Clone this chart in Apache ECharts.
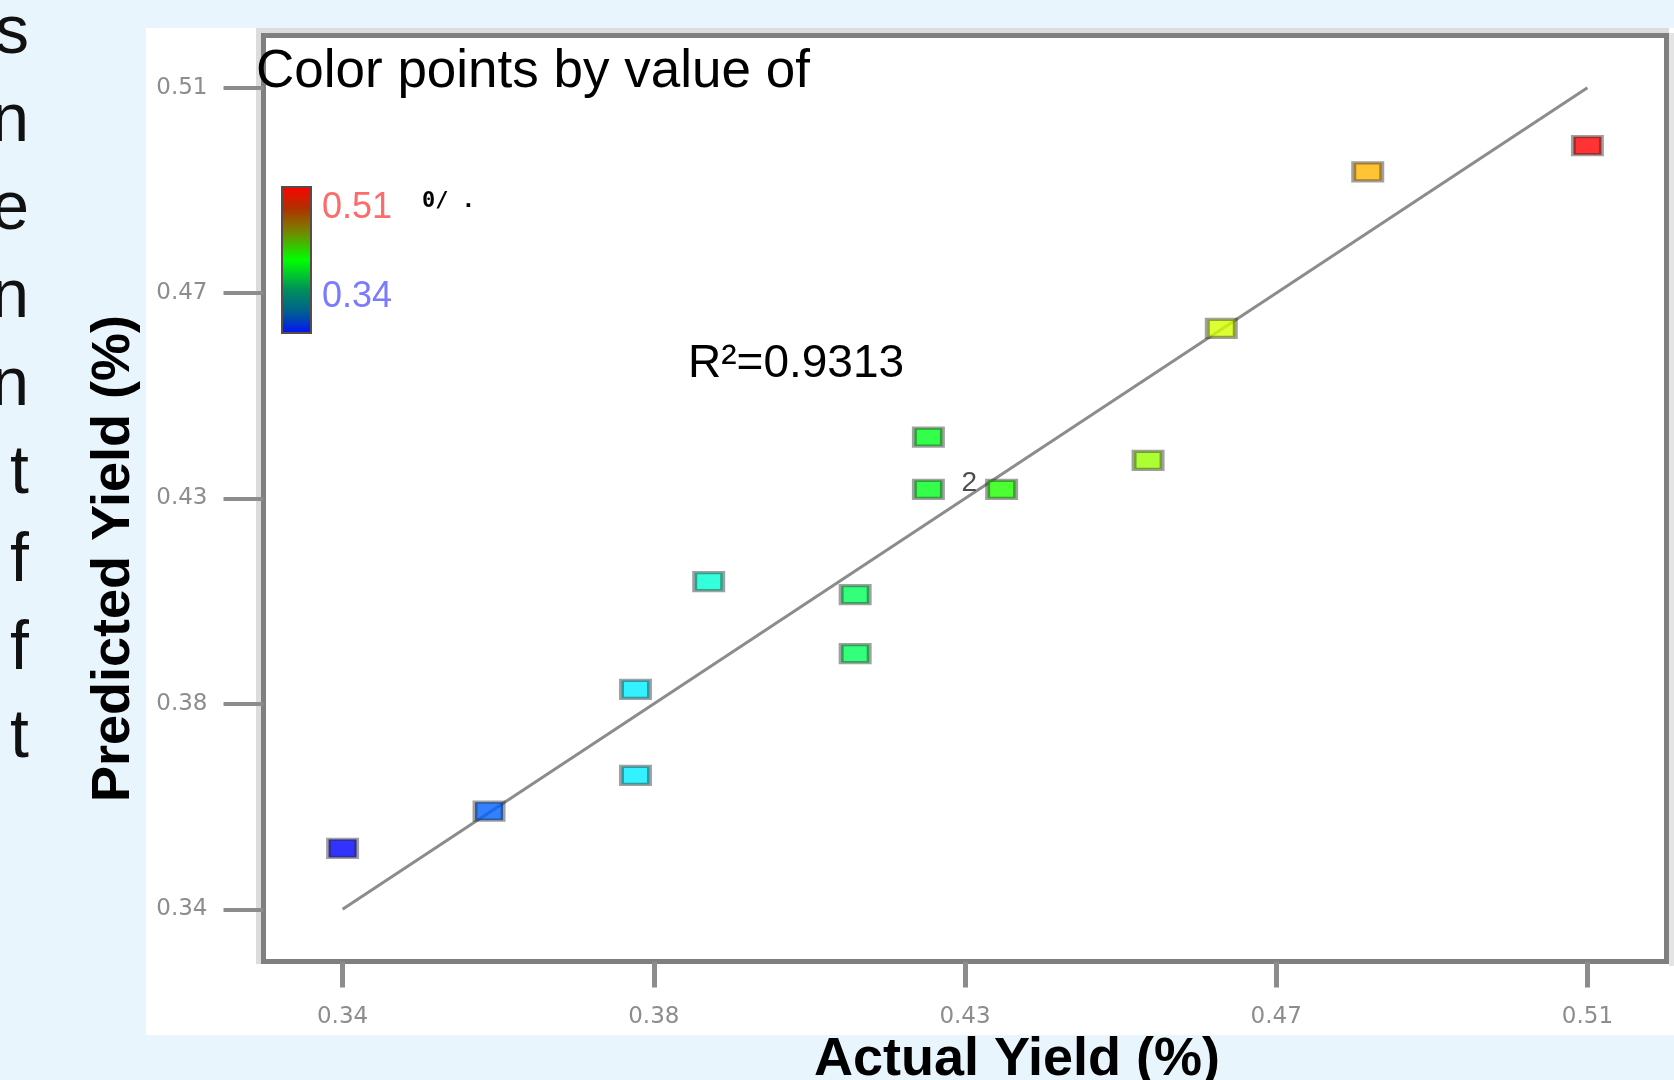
<!DOCTYPE html>
<html>
<head>
<meta charset="utf-8">
<title>Predicted vs Actual Yield</title>
<script src="https://cdn.jsdelivr.net/npm/echarts@6/dist/echarts.min.js"></script>
<style>
  html, body { margin: 0; padding: 0; background: #e9f5fd; }
  #chart { width: 1674px; height: 1080px; }
</style>
</head>
<body>
<div id="chart"></div>
<script>
// values
const actualYield = [0.34, 0.36, 0.38, 0.38, 0.39, 0.41, 0.41, 0.42, 0.42, 0.43, 0.43, 0.45, 0.46, 0.48, 0.51]
const predictedYield = [0.3526, 0.3603, 0.3677, 0.3855, 0.4078, 0.4051, 0.3929, 0.4377, 0.4269, 0.4269, 0.4269, 0.4329, 0.4602, 0.4926, 0.4980]
const tickValues = [0.34, 0.3825, 0.425, 0.4675, 0.51]
const tickLabels = ['0.34', '0.38', '0.43', '0.47', '0.51']
const colorRange = [0.34, 0.51]
const rSquared = '0.9313'
// right ends of the slide text cut off at the left edge
const sideLetters = ['s', 'n', 'e', 'n', 'n', 't', 'f', 'f', 't']

const chart = echarts.init(document.getElementById('chart'))

// merge repeated runs, label them with their count
const points = []
actualYield.forEach(function (x, i) {
  const y = predictedYield[i]
  const same = points.find(function (p) { return p.value[0] === x && p.value[1] === y })
  if (same) {
    same.count++
  } else {
    points.push({ value: [x, y], count: 1 })
  }
})
const scatterData = points.map(function (p) {
  return {
    value: p.value,
    label: { show: p.count > 1, formatter: String(p.count) }
  }
})

function tickText (v) {
  for (let i = 0; i < tickValues.length; i++) {
    if (Math.abs(tickValues[i] - v) < 1e-6) return tickLabels[i]
  }
  return ''
}

const axisFont = 'DejaVu Sans'
const titleFont = 'Liberation Sans'

const graphics = [
  {
    type: 'rect',
    z: -10,
    shape: { x: 146, y: 28, width: 1528, height: 1007 },
    style: { fill: '#ffffff' }
  },
  // light edge of the plot frame
  { type: 'line', z: -5, shape: { x1: 256, y1: 30.5, x2: 1669, y2: 30.5 }, style: { stroke: '#dcdcdc', lineWidth: 5 } },
  { type: 'line', z: -5, shape: { x1: 258.5, y1: 28, x2: 258.5, y2: 964 }, style: { stroke: '#dcdcdc', lineWidth: 5 } },
  { type: 'line', z: -5, shape: { x1: 1671.5, y1: 33, x2: 1671.5, y2: 966 }, style: { stroke: '#e4e4e4', lineWidth: 5 } },
  {
    type: 'text',
    z: 100,
    style: {
      text: 'Color points by value of',
      x: 256, y: 72,
      verticalAlign: 'middle',
      font: '53px "' + titleFont + '"',
      fill: '#000'
    }
  },
  {
    type: 'rect',
    z: 100,
    shape: { x: 282, y: 187, width: 29, height: 146 },
    style: {
      fill: new echarts.graphic.LinearGradient(0, 0, 0, 1, [
        { offset: 0, color: '#ff0000' },
        { offset: 0.15, color: '#b03000' },
        { offset: 0.3, color: '#7a8000' },
        { offset: 0.5, color: '#00ff00' },
        { offset: 0.7, color: '#00905a' },
        { offset: 0.85, color: '#005f8f' },
        { offset: 1, color: '#0010ff' }
      ]),
      stroke: '#5a4a4a',
      lineWidth: 2
    }
  },
  {
    type: 'text',
    z: 100,
    style: {
      text: colorRange[1].toFixed(2),
      x: 322, y: 208,
      verticalAlign: 'middle',
      font: '36px "' + titleFont + '"',
      fill: '#ff6b6b'
    }
  },
  {
    type: 'text',
    z: 100,
    style: {
      text: colorRange[0].toFixed(2),
      x: 322, y: 297,
      verticalAlign: 'middle',
      font: '36px "' + titleFont + '"',
      fill: '#7b7bff'
    }
  },
  {
    type: 'text',
    z: 100,
    style: {
      text: '0/ .',
      x: 422, y: 201,
      verticalAlign: 'middle',
      font: 'bold 22px "DejaVu Sans Mono"',
      fill: '#000'
    }
  },
  {
    type: 'text',
    z: 100,
    style: {
      text: 'R\u00b2=' + rSquared,
      x: 688, y: 364,
      verticalAlign: 'middle',
      font: '46px "' + titleFont + '"',
      fill: '#000'
    }
  }
]

sideLetters.forEach(function (ch, i) {
  graphics.push({
    type: 'text',
    z: 100,
    style: {
      text: ch,
      x: 29, y: 34 + i * 88,
      align: 'right',
      verticalAlign: 'middle',
      font: '68px "' + titleFont + '"',
      fill: '#111'
    }
  })
})

const option = {
  backgroundColor: '#e9f5fd',
  animation: false,
  grid: {
    left: 263.5,
    right: 7.5,
    top: 35.5,
    bottom: 118.5,
    outerBoundsMode: 'none',
    show: true,
    borderColor: '#7f7f7f',
    borderWidth: 5
  },
  xAxis: {
    type: 'value',
    min: 0.3292,
    max: 0.5208,
    name: 'Actual Yield (%)',
    nameLocation: 'middle',
    nameGap: 69,
    nameTextStyle: {
      fontFamily: titleFont,
      fontWeight: 'bold',
      fontSize: 54,
      color: '#000',
      padding: [0, 0, 0, 104]
    },
    axisLine: { show: false },
    splitLine: { show: false },
    axisTick: {
      customValues: tickValues,
      length: 26,
      lineStyle: { color: '#8c8c8c', width: 5 }
    },
    axisLabel: {
      customValues: tickValues,
      formatter: tickText,
      margin: 44,
      fontFamily: axisFont,
      fontSize: 23,
      color: '#8d8d8d'
    }
  },
  yAxis: {
    type: 'value',
    min: 0.3292,
    max: 0.5208,
    name: 'Predicted Yield (%)',
    nameLocation: 'middle',
    nameRotate: 90,
    nameGap: 122,
    nameTextStyle: {
      fontFamily: titleFont,
      fontWeight: 'bold',
      fontSize: 54,
      color: '#000',
      padding: [0, 120, 0, 0]
    },
    axisLine: { show: false },
    splitLine: { show: false },
    axisTick: {
      customValues: tickValues,
      length: 40,
      lineStyle: { color: '#8c8c8c', width: 4 }
    },
    axisLabel: {
      customValues: tickValues,
      formatter: tickText,
      margin: 56,
      fontFamily: axisFont,
      fontSize: 23,
      color: '#8d8d8d',
      padding: [0, 0, 24, 0]
    }
  },
  visualMap: {
    show: false,
    type: 'continuous',
    dimension: 0,
    seriesIndex: 1,
    min: colorRange[0],
    max: colorRange[1],
    inRange: {
      color: ['#0000ff', '#0066ff', '#00ffff', '#00ff80', '#00ff00',
        '#80ff00', '#ffff00', '#ff8000', '#ff0000']
    }
  },
  series: [
    {
      type: 'line',
      data: [[tickValues[0], tickValues[0]], [tickValues[tickValues.length - 1], tickValues[tickValues.length - 1]]],
      symbol: 'none',
      silent: true,
      lineStyle: { color: '#8c8c8c', width: 3 },
      z: 1
    },
    {
      type: 'scatter',
      data: scatterData,
      symbol: 'rect',
      symbolSize: [28, 18],
      itemStyle: {
        borderColor: 'rgba(40,40,40,0.55)',
        borderWidth: 4
      },
      label: {
        position: 'left',
        distance: 8,
        offset: [0, -6],
        fontFamily: titleFont,
        fontSize: 28,
        color: '#222'
      },
      z: 3
    }
  ],
  graphic: graphics
}

chart.setOption(option)
</script>
</body>
</html>
